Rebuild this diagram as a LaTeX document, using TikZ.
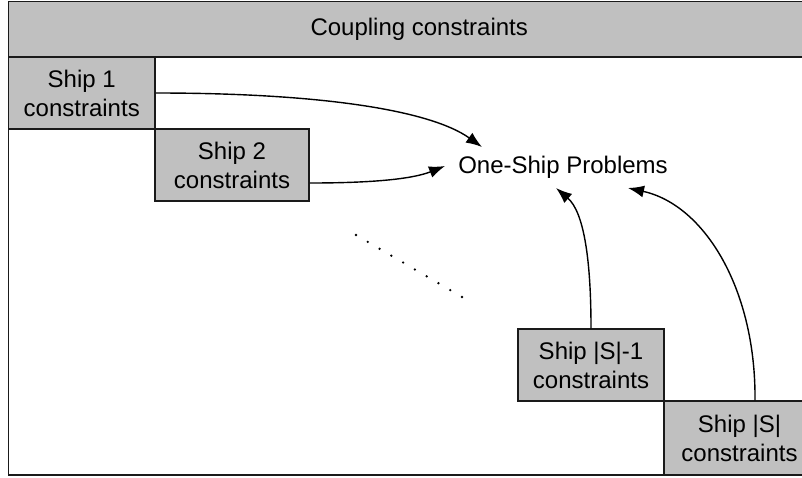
\documentclass[tikz,border=0pt]{standalone}
\usepackage{fontspec}
\setmainfont{Liberation Sans}
\usetikzlibrary{arrows.meta}
\definecolor{boxgray}{HTML}{C0C0C0}
\definecolor{edge}{HTML}{1A1A1A}
\begin{document}
\begin{tikzpicture}[x=1pt,y=-1pt,
  every node/.style={font=\fontsize{24}{29}\selectfont, text=black},
  shipbox/.style={draw=edge, line width=1.5pt, fill=boxgray, align=center, inner sep=0pt},
  flow/.style={-{Latex[length=16pt,width=12pt]}, line width=1.4pt, draw=black}
]
\clip (0,0) rectangle (802,477);
% outer frame
\draw[edge, line width=1.8pt, fill=white] (8.5,1.5) rectangle (830,475);
% header band
\node[shipbox, minimum width=821.5pt, minimum height=55.5pt, line width=1.8pt] (coupling) at (419.25,29.25) {Coupling constraints};
% diagonal blocks
\node[shipbox, minimum width=146.5pt, minimum height=72pt] (s1) at (81.75,93) {Ship 1\\constraints};
\node[shipbox, minimum width=154pt, minimum height=72pt] (s2) at (232,165) {Ship 2\\constraints};
\node[shipbox, minimum width=146pt, minimum height=72pt] (sm) at (591,365) {Ship |S|-1\\constraints};
\node[shipbox, minimum width=151pt, minimum height=74pt] (sn) at (739.5,438) {Ship |S|\\constraints};
% target label
\node (osp) at (563,167) {One-Ship Problems};
% arrow end points around the label
\coordinate (t1) at (482,147);
\coordinate (t2) at (445,166);
\coordinate (t3) at (556,188);
\coordinate (t4) at (628,188);
\draw[flow] (s1.east) .. controls (320,93) and (430,110) .. (t1);
\draw[flow] ([yshift=-18pt]s2.east) .. controls (380,183) and (415,178) .. (t2);
\draw[flow] (sm.north) .. controls (591,260) and (584,212) .. (t3);
\draw[flow] ([xshift=15.5pt]sn.north) .. controls (756,290) and (705,205) .. (t4);
% ellipsis along the diagonal
\foreach \i in {0,...,9}
  \fill[black] ({356+\i*106/9},{235+\i*62/9}) circle (1.3pt);
\end{tikzpicture}
\end{document}
